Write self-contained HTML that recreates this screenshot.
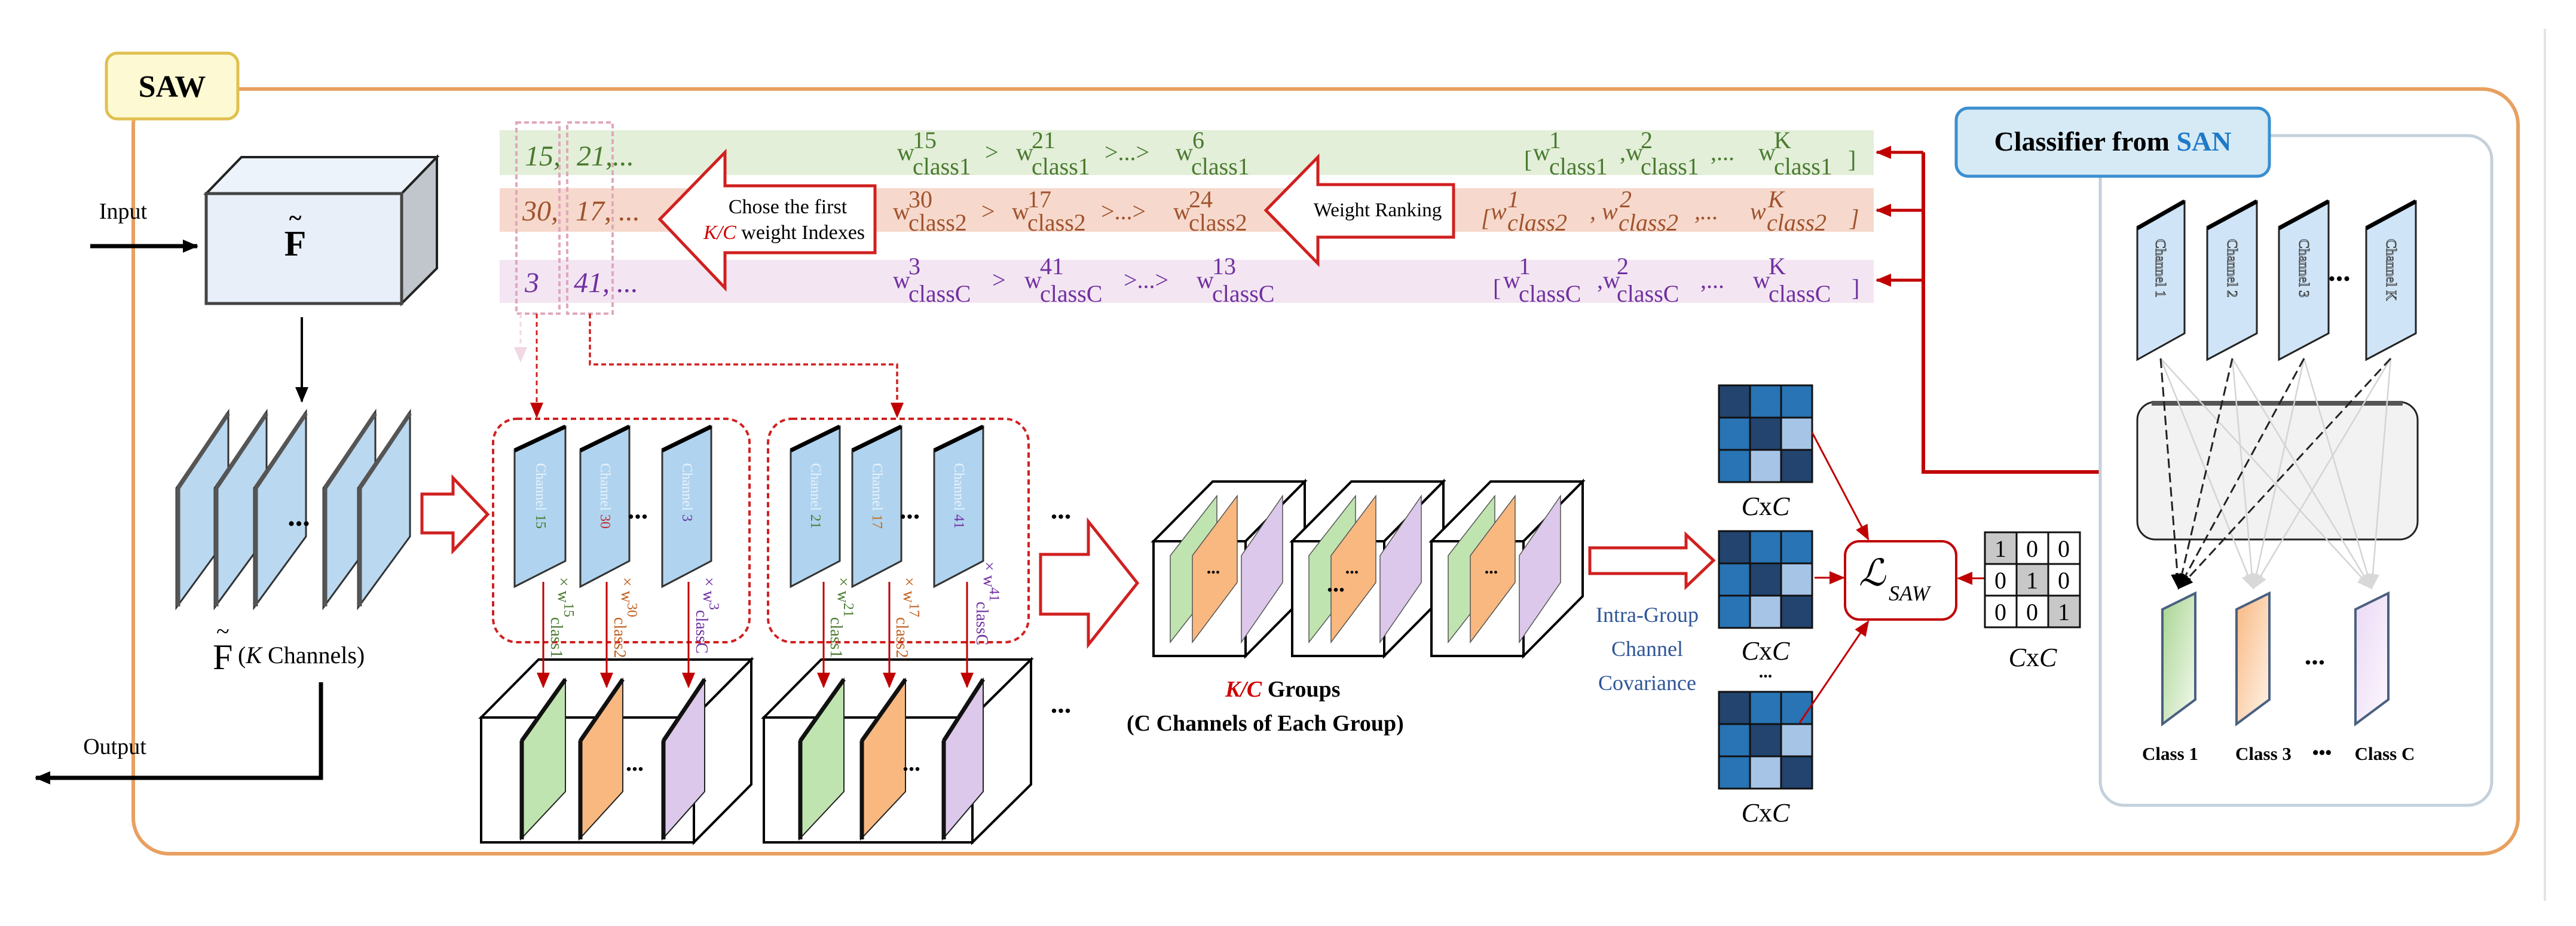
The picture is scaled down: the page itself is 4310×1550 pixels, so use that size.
<!DOCTYPE html>
<html><head><meta charset="utf-8"><style>
html,body{margin:0;padding:0;background:#fff;}
svg{display:block;font-family:"Liberation Serif",serif;}
svg text{font-family:"Liberation Serif",serif;}
</style></head><body>
<svg width="4310" height="1550" viewBox="0 0 4310 1550" xmlns="http://www.w3.org/2000/svg" font-family="Liberation Serif, serif">
<defs>
<marker id="arb" markerWidth="26" markerHeight="26" refX="24" refY="13" orient="auto" markerUnits="userSpaceOnUse"><path d="M0,2 L26,13 L0,24 z" fill="#c00000"/></marker>
<marker id="abk" markerWidth="26" markerHeight="26" refX="24" refY="13" orient="auto" markerUnits="userSpaceOnUse"><path d="M0,2 L26,13 L0,24 z" fill="#000"/></marker>
<marker id="agr" markerWidth="26" markerHeight="26" refX="24" refY="13" orient="auto" markerUnits="userSpaceOnUse"><path d="M0,2 L26,13 L0,24 z" fill="#d8d8d8"/></marker>
<marker id="apk" markerWidth="26" markerHeight="26" refX="24" refY="13" orient="auto" markerUnits="userSpaceOnUse"><path d="M0,2 L26,13 L0,24 z" fill="#f0d8e4"/></marker>
<linearGradient id="gG" x1="0" y1="0" x2="1" y2="1"><stop offset="0" stop-color="#a8d490"/><stop offset="1" stop-color="#f4faf0"/></linearGradient>
<linearGradient id="gO" x1="0" y1="0" x2="1" y2="1"><stop offset="0" stop-color="#f8b880"/><stop offset="1" stop-color="#fff4ea"/></linearGradient>
<linearGradient id="gP" x1="0" y1="0" x2="1" y2="1"><stop offset="0" stop-color="#ead8f4"/><stop offset="1" stop-color="#fdf8ff"/></linearGradient>
</defs>

<line x1="4258" y1="48" x2="4258" y2="1508" stroke="#e4e4e4" stroke-width="4"/>

<rect x="223" y="149" width="3990" height="1280" rx="60" fill="none" stroke="#e8a060" stroke-width="6"/>
<rect x="178" y="89" width="220" height="110" rx="18" fill="#fdf9d2" stroke="#e0c050" stroke-width="5"/>
<text x="288" y="162" font-size="52" font-weight="bold" text-anchor="middle">SAW</text>

<rect x="836" y="218" width="2299" height="75" fill="#e3efd9"/>
<rect x="836" y="315" width="2299" height="73" fill="#f6d9cc"/>
<rect x="836" y="435" width="2299" height="72" fill="#f3e6f2"/>

<rect x="864" y="205" width="72" height="320" fill="none" stroke="#e0a8bc" stroke-width="4" stroke-dasharray="8,5"/>
<rect x="949" y="205" width="76" height="320" fill="none" stroke="#e0a8bc" stroke-width="4" stroke-dasharray="8,5"/>

<g font-style="italic" font-size="48">
<text x="878" y="277" fill="#4a7a30">15,</text><text x="965" y="277" fill="#4a7a30">21,...</text>
<text x="874" y="369" fill="#a0522d">30,</text><text x="963" y="369" fill="#a0522d">17, ...</text>
<text x="878" y="489" fill="#7030a0">3</text><text x="960" y="489" fill="#7030a0">41, ...</text>
</g>

<polygon points="1104,367 1213,255 1213,311 1464,311 1464,423 1213,423 1213,482" fill="#fff" stroke="#d02020" stroke-width="5"/>
<text x="1318" y="357" font-size="34" text-anchor="middle">Chose the first</text>
<text x="1312" y="400" font-size="34" text-anchor="middle"><tspan fill="#d00000" font-style="italic">K/C</tspan> weight Indexes</text>

<polygon points="2118,352 2205,263 2205,309 2432,309 2432,397 2205,397 2205,441" fill="#fff" stroke="#d02020" stroke-width="5"/>
<text x="2305" y="362" font-size="33" text-anchor="middle">Weight Ranking</text>

<g font-size="40" fill="#4a7a30">
<text x="1501" y="268">w</text><text x="1527" y="248">15</text><text x="1527" y="292">class1</text><text x="1648" y="268">&gt;</text>
<text x="1700" y="268">w</text><text x="1726" y="248">21</text><text x="1726" y="292">class1</text><text x="1848" y="268">&gt;...&gt;</text>
<text x="1967" y="268">w</text><text x="1995" y="248">6</text><text x="1993" y="292">class1</text>
<text x="2550" y="280">[</text><text x="2565" y="268">w</text><text x="2592" y="248">1</text><text x="2592" y="292">class1</text>
<text x="2710" y="268">,w</text><text x="2745" y="248">2</text><text x="2745" y="292">class1</text><text x="2862" y="268">,...</text>
<text x="2942" y="268">w</text><text x="2968" y="248">K</text><text x="2968" y="292">class1</text><text x="3092" y="280">]</text>
</g>
<g font-size="40" fill="#a0522d">
<text x="1494" y="367">w</text><text x="1520" y="347">30</text><text x="1520" y="386">class2</text><text x="1642" y="367">&gt;</text>
<text x="1693" y="367">w</text><text x="1719" y="347">17</text><text x="1719" y="386">class2</text><text x="1842" y="367">&gt;...&gt;</text>
<text x="1963" y="367">w</text><text x="1989" y="347">24</text><text x="1989" y="386">class2</text>
<g font-style="italic">
<text x="2478" y="378">[</text><text x="2494" y="367">w</text><text x="2522" y="347">1</text><text x="2522" y="386">class2</text>
<text x="2660" y="367">, w</text><text x="2710" y="347">2</text><text x="2708" y="386">class2</text><text x="2835" y="367">,...</text>
<text x="2928" y="367">w</text><text x="2958" y="347">K</text><text x="2956" y="386">class2</text><text x="3095" y="378">]</text>
</g></g>
<g font-size="40" fill="#7030a0">
<text x="1494" y="482">w</text><text x="1520" y="459">3</text><text x="1520" y="505">classC</text><text x="1660" y="482">&gt;</text>
<text x="1714" y="482">w</text><text x="1740" y="459">41</text><text x="1740" y="505">classC</text><text x="1880" y="482">&gt;...&gt;</text>
<text x="2002" y="482">w</text><text x="2028" y="459">13</text><text x="2028" y="505">classC</text>
<text x="2498" y="495">[</text><text x="2515" y="482">w</text><text x="2541" y="459">1</text><text x="2541" y="505">classC</text>
<text x="2672" y="482">,w</text><text x="2705" y="459">2</text><text x="2705" y="505">classC</text><text x="2845" y="482">,...</text>
<text x="2933" y="482">w</text><text x="2959" y="459">K</text><text x="2959" y="505">classC</text><text x="3098" y="495">]</text>
</g>

<polyline points="3514,790 3218,790 3218,255" fill="none" stroke="#c00000" stroke-width="6"/>
<line x1="3218" y1="255" x2="3140" y2="255" stroke="#c00000" stroke-width="5" marker-end="url(#arb)"/>
<line x1="3218" y1="352" x2="3140" y2="352" stroke="#c00000" stroke-width="5" marker-end="url(#arb)"/>
<line x1="3218" y1="469" x2="3140" y2="469" stroke="#c00000" stroke-width="5" marker-end="url(#arb)"/>

<rect x="3514" y="227" width="655" height="1121" rx="40" fill="#fff" stroke="#c4d0da" stroke-width="5"/>
<rect x="3273" y="181" width="524" height="114" rx="20" fill="#d6eaf5" stroke="#3a8fd0" stroke-width="5"/>
<text x="3535" y="252" font-size="46" font-weight="bold" text-anchor="middle">Classifier from <tspan fill="#1f7ac8">SAN</tspan></text>
<rect x="3576" y="673" width="469" height="230" rx="30" fill="#f2f2f2" stroke="#222" stroke-width="3"/>
<line x1="3600" y1="675" x2="4020" y2="675" stroke="#555" stroke-width="8"/>
<g fill="#cfe4f6" stroke="#222" stroke-width="3">
<polygon points="3576,382 3655,337 3655,558 3576,602"/>
<polygon points="3693,382 3776,337 3776,558 3693,602"/>
<polygon points="3813,382 3896,337 3896,558 3813,602"/>
<polygon points="3959,382 4042,337 4042,558 3959,602"/>
</g>
<g stroke="#000" stroke-width="7"><line x1="3576" y1="382" x2="3655" y2="337"/><line x1="3693" y1="382" x2="3776" y2="337"/><line x1="3813" y1="382" x2="3896" y2="337"/><line x1="3959" y1="382" x2="4042" y2="337"/></g>
<g font-size="24" fill="#cfe4f6" stroke="#333" stroke-width="1">
<text transform="translate(3607,400) rotate(90)">Channel 1</text>
<text transform="translate(3727,400) rotate(90)">Channel 2</text>
<text transform="translate(3847,400) rotate(90)">Channel 3</text>
<text transform="translate(3993,400) rotate(90)">Channel K</text>
</g>
<text x="3914" y="470" font-size="50" font-weight="bold" text-anchor="middle">...</text>
<g stroke="#d4d4d4" stroke-width="2.5">
<line x1="3615" y1="600" x2="3770" y2="985" marker-end="url(#agr)"/><line x1="3615" y1="600" x2="3968" y2="985" marker-end="url(#agr)"/>
<line x1="3735" y1="600" x2="3770" y2="985" marker-end="url(#agr)"/><line x1="3735" y1="600" x2="3968" y2="985" marker-end="url(#agr)"/>
<line x1="3855" y1="600" x2="3770" y2="985" marker-end="url(#agr)"/><line x1="3855" y1="600" x2="3968" y2="985" marker-end="url(#agr)"/>
<line x1="4000" y1="600" x2="3770" y2="985" marker-end="url(#agr)"/><line x1="4000" y1="600" x2="3968" y2="985" marker-end="url(#agr)"/>
</g>
<g stroke="#222" stroke-width="3" stroke-dasharray="16,8" fill="none">
<line x1="3615" y1="600" x2="3645" y2="985" marker-end="url(#abk)"/>
<line x1="3735" y1="600" x2="3645" y2="985" marker-end="url(#abk)"/>
<line x1="3855" y1="600" x2="3645" y2="985" marker-end="url(#abk)"/>
<line x1="4000" y1="600" x2="3645" y2="985" marker-end="url(#abk)"/>
</g>
<g stroke="#4a6080" stroke-width="4">
<polygon points="3618,1020 3673,993 3673,1171 3618,1212" fill="url(#gG)"/>
<polygon points="3742,1020 3797,993 3797,1171 3742,1212" fill="url(#gO)"/>
<polygon points="3941,1020 3996,993 3996,1171 3941,1212" fill="url(#gP)"/>
</g>
<text x="3873" y="1112" font-size="46" font-weight="bold" text-anchor="middle">...</text>
<g font-size="31" font-weight="bold" text-anchor="middle">
<text x="3631" y="1272">Class 1</text><text x="3787" y="1272">Class 3</text><text x="3885" y="1270">•••</text><text x="3990" y="1272">Class C</text>
</g>

<line x1="151" y1="412" x2="330" y2="412" stroke="#000" stroke-width="7" marker-end="url(#abk)"/>
<text x="206" y="366" font-size="38" text-anchor="middle">Input</text>
<polygon points="345,324 404,263 731,263 672,324" fill="#edf3fa" stroke="#222" stroke-width="4"/>
<polygon points="672,324 731,263 731,449 672,508" fill="#c0c6cc" stroke="#222" stroke-width="4"/>
<rect x="345" y="324" width="327" height="184" fill="#e8eff8" stroke="#444" stroke-width="5"/>
<text x="494" y="428" font-size="60" font-weight="bold" text-anchor="middle">F</text>
<text x="494" y="378" font-size="40" font-weight="bold" text-anchor="middle">~</text>
<line x1="505" y1="531" x2="505" y2="672" stroke="#000" stroke-width="4" marker-end="url(#abk)"/>

<g fill="#bad8f0" stroke="#333" stroke-width="3">
<polygon points="295,817 382,689 382,898 295,1017"/>
<polygon points="359,817 446,689 446,898 359,1017"/>
<polygon points="425,817 512,689 512,898 425,1017"/>
<polygon points="541,817 628,689 628,898 541,1017"/>
<polygon points="599,817 686,689 686,898 599,1017"/>
</g>
<g stroke="#555" stroke-width="7"><line x1="298" y1="817" x2="298" y2="1015"/><line x1="362" y1="817" x2="362" y2="1015"/><line x1="428" y1="817" x2="428" y2="1015"/><line x1="544" y1="817" x2="544" y2="1015"/><line x1="602" y1="817" x2="602" y2="1015"/>
<line x1="298" y1="817" x2="382" y2="692"/><line x1="362" y1="817" x2="446" y2="692"/><line x1="428" y1="817" x2="512" y2="692"/><line x1="544" y1="817" x2="628" y2="692"/><line x1="602" y1="817" x2="686" y2="692"/></g>
<text x="500" y="880" font-size="50" font-weight="bold" text-anchor="middle">...</text>
<text x="356" y="1120" font-size="60">F</text><text x="362" y="1070" font-size="40">~</text>
<text x="398" y="1110" font-size="40">(<tspan font-style="italic">K</tspan> Channels)</text>
<polyline points="537,1142 537,1302 60,1302" fill="none" stroke="#000" stroke-width="7" marker-end="url(#abk)"/>
<text x="192" y="1262" font-size="38" text-anchor="middle">Output</text>

<polygon points="706,827 758,827 758,800 816,861 758,922 758,892 706,892" fill="#fff" stroke="#d02020" stroke-width="5"/>

<line x1="871" y1="525" x2="871" y2="605" stroke="#f0d8e4" stroke-width="3" stroke-dasharray="8,6" marker-end="url(#apk)"/>
<line x1="898" y1="525" x2="898" y2="698" stroke="#d02020" stroke-width="3" stroke-dasharray="8,6" marker-end="url(#arb)"/>
<polyline points="987,525 987,610 1501,610 1501,698" fill="none" stroke="#d02020" stroke-width="3.5" stroke-dasharray="8,5" marker-end="url(#arb)"/>

<rect x="825" y="701" width="429" height="374" rx="40" fill="none" stroke="#d02020" stroke-width="4" stroke-dasharray="9,6"/>
<rect x="1285" y="701" width="436" height="374" rx="40" fill="none" stroke="#d02020" stroke-width="4" stroke-dasharray="9,6"/>
<g fill="#b0d4ef" stroke="#333" stroke-width="3">
<polygon points="861,754 946,714 946,939 861,982"/>
<polygon points="971,754 1053,714 1053,939 971,982"/>
<polygon points="1108,754 1190,714 1190,939 1108,982"/>
<polygon points="1323,754 1405,714 1405,939 1323,982"/>
<polygon points="1426,754 1508,714 1508,939 1426,982"/>
<polygon points="1563,754 1645,714 1645,939 1563,982"/>
</g>
<g stroke="#000" stroke-width="7"><line x1="861" y1="754" x2="946" y2="714"/><line x1="971" y1="754" x2="1053" y2="714"/><line x1="1108" y1="754" x2="1190" y2="714"/><line x1="1323" y1="754" x2="1405" y2="714"/><line x1="1426" y1="754" x2="1508" y2="714"/><line x1="1563" y1="754" x2="1645" y2="714"/></g>
<g font-size="24" fill="#e8f2fb">
<text transform="translate(897,775) rotate(90)">Channel <tspan fill="#4a7a30">15</tspan></text>
<text transform="translate(1005,775) rotate(90)">Channel <tspan fill="#c03030">30</tspan></text>
<text transform="translate(1142,775) rotate(90)">Channel <tspan fill="#7030a0">3</tspan></text>
<text transform="translate(1357,775) rotate(90)">Channel <tspan fill="#4a7a30">21</tspan></text>
<text transform="translate(1460,775) rotate(90)">Channel <tspan fill="#c07020">17</tspan></text>
<text transform="translate(1597,775) rotate(90)">Channel <tspan fill="#7030a0">41</tspan></text>
</g>
<g font-size="46" font-weight="bold" text-anchor="middle"><text x="1067" y="868">...</text><text x="1522" y="868">...</text><text x="1775" y="868">...</text><text x="1775" y="1193">...</text></g>
<g font-size="28">
<text transform="translate(934,966) rotate(90)" fill="#4a7a30">× w<tspan dy="-10" font-size="24">15</tspan><tspan dy="22">class1</tspan></text>
<text transform="translate(1040,966) rotate(90)" fill="#c06020">× w<tspan dy="-10" font-size="24">30</tspan><tspan dy="22">class2</tspan></text>
<text transform="translate(1177,966) rotate(90)" fill="#7030a0">× w<tspan dy="-10" font-size="24">3</tspan><tspan dy="22">classC</tspan></text>
<text transform="translate(1402,966) rotate(90)" fill="#4a7a30">× w<tspan dy="-10" font-size="24">21</tspan><tspan dy="22">class1</tspan></text>
<text transform="translate(1512,966) rotate(90)" fill="#c06020">× w<tspan dy="-10" font-size="24">17</tspan><tspan dy="22">class2</tspan></text>
<text transform="translate(1646,940) rotate(90)" fill="#7030a0">× w<tspan dy="-10" font-size="24">41</tspan><tspan dy="22">classC</tspan></text>
</g>

<g stroke="#000" stroke-width="4" fill="#fff">
<polygon points="805,1201 901,1104 1257,1104 1161,1201"/>
<polygon points="1161,1201 1257,1104 1257,1313 1161,1410"/>
<rect x="805" y="1201" width="356" height="209"/>
<polygon points="1278,1201 1374,1104 1725,1104 1627,1201"/>
<polygon points="1627,1201 1725,1104 1725,1313 1627,1410"/>
<rect x="1278" y="1201" width="349" height="209"/>
</g>
<g stroke="#222" stroke-width="2">
<polygon points="871,1240 946,1137 946,1325 871,1405" fill="#c0e4b0"/>
<polygon points="969,1240 1042,1137 1042,1325 969,1405" fill="#f8b880"/>
<polygon points="1108,1240 1179,1137 1179,1325 1108,1405" fill="#dcc8ea"/>
<polygon points="1337,1240 1412,1137 1412,1325 1337,1405" fill="#c0e4b0"/>
<polygon points="1440,1240 1515,1137 1515,1325 1440,1405" fill="#f8b880"/>
<polygon points="1577,1240 1645,1137 1645,1325 1577,1405" fill="#dcc8ea"/>
</g>
<g stroke="#111" stroke-width="7"><line x1="873" y1="1240" x2="873" y2="1405"/><line x1="873" y1="1240" x2="946" y2="1137"/><line x1="971" y1="1240" x2="971" y2="1405"/><line x1="971" y1="1240" x2="1042" y2="1137"/><line x1="1110" y1="1240" x2="1110" y2="1405"/><line x1="1110" y1="1240" x2="1179" y2="1137"/><line x1="1339" y1="1240" x2="1339" y2="1405"/><line x1="1339" y1="1240" x2="1412" y2="1137"/><line x1="1442" y1="1240" x2="1442" y2="1405"/><line x1="1442" y1="1240" x2="1515" y2="1137"/><line x1="1579" y1="1240" x2="1579" y2="1405"/><line x1="1579" y1="1240" x2="1645" y2="1137"/></g>
<g font-size="40" font-weight="bold" text-anchor="middle"><text x="1062" y="1290">...</text><text x="1525" y="1290">...</text></g>
<g stroke="#c00000" stroke-width="3">
<line x1="909" y1="974" x2="909" y2="1150" marker-end="url(#arb)"/><line x1="1015" y1="974" x2="1015" y2="1150" marker-end="url(#arb)"/><line x1="1152" y1="974" x2="1152" y2="1150" marker-end="url(#arb)"/>
<line x1="1378" y1="974" x2="1378" y2="1150" marker-end="url(#arb)"/><line x1="1488" y1="974" x2="1488" y2="1150" marker-end="url(#arb)"/><line x1="1618" y1="974" x2="1618" y2="1150" marker-end="url(#arb)"/>
</g>

<polygon points="1741,928 1821,928 1821,873 1903,976 1821,1079 1821,1028 1741,1028" fill="#fff" stroke="#d02020" stroke-width="5"/>

<g id="gc">
<g stroke="#000" stroke-width="4" fill="#fff">
<polygon points="1930,906 2029,806 2183,806 2084,906"/>
<polygon points="2084,906 2183,806 2183,998 2084,1098"/>
<rect x="1930" y="906" width="154" height="192"/>
</g>
<g stroke="#555" stroke-width="1.5">
<polygon points="1958,1075 1958,930 2036,830 2036,975" fill="#c0e4b0"/>
<polygon points="1995,1075 1995,930 2070,830 2070,975" fill="#f8b880"/>
<polygon points="2077,1075 2077,930 2146,830 2146,975" fill="#dcc8ea"/>
</g>
<text x="2030" y="960" font-size="30" font-weight="bold" text-anchor="middle">...</text>
</g>
<use href="#gc" x="232"/>
<use href="#gc" x="465"/>
<text x="2235" y="990" font-size="40" font-weight="bold" text-anchor="middle">...</text>
<text x="2050" y="1166" font-size="38" font-weight="bold"><tspan fill="#d00000" font-style="italic">K/C</tspan> Groups</text>
<text x="1885" y="1223" font-size="38" font-weight="bold">(C Channels of Each Group)</text>

<polygon points="2660,917 2821,917 2821,895 2867,938 2821,982 2821,960 2660,960" fill="#fff" stroke="#d02020" stroke-width="5"/>
<g font-size="36" fill="#2f5597" text-anchor="middle"><text x="2756" y="1041">Intra-Group</text><text x="2756" y="1098">Channel</text><text x="2756" y="1155">Covariance</text></g>

<g id="mx" stroke="#111" stroke-width="3">
<rect x="2876" y="645" width="52" height="54" fill="#22446e"/><rect x="2928" y="645" width="52" height="54" fill="#2874b4"/><rect x="2980" y="645" width="52" height="54" fill="#2874b4"/>
<rect x="2876" y="699" width="52" height="54" fill="#2874b4"/><rect x="2928" y="699" width="52" height="54" fill="#22446e"/><rect x="2980" y="699" width="52" height="54" fill="#a6c4e6"/>
<rect x="2876" y="753" width="52" height="54" fill="#2874b4"/><rect x="2928" y="753" width="52" height="54" fill="#a6c4e6"/><rect x="2980" y="753" width="52" height="54" fill="#22446e"/>
</g>
<use href="#mx" y="244"/>
<use href="#mx" y="513"/>
<g font-size="44" text-anchor="middle"><text x="2954" y="862"><tspan font-style="italic">C</tspan>x<tspan font-style="italic">C</tspan></text>
<text x="2954" y="1104"><tspan font-style="italic">C</tspan>x<tspan font-style="italic">C</tspan></text>
<text x="2954" y="1375"><tspan font-style="italic">C</tspan>x<tspan font-style="italic">C</tspan></text>
<text x="3401" y="1115"><tspan font-style="italic">C</tspan>x<tspan font-style="italic">C</tspan></text></g>
<text x="2954" y="1134" font-size="30" font-weight="bold" text-anchor="middle">...</text>

<rect x="3087" y="906" width="186" height="131" rx="24" fill="#fff" stroke="#c00000" stroke-width="4"/>
<text x="3110" y="980" font-size="62" font-style="italic" font-family="DejaVu Serif, serif">ℒ</text>
<text x="3160" y="1005" font-size="36" font-style="italic">SAW</text>
<g stroke="#c00000" stroke-width="3">
<line x1="3032" y1="724" x2="3126" y2="903" marker-end="url(#arb)"/>
<line x1="3036" y1="967" x2="3085" y2="967" marker-end="url(#arb)"/>
<line x1="3011" y1="1210" x2="3126" y2="1040" marker-end="url(#arb)"/>
<line x1="3321" y1="968" x2="3276" y2="968" marker-end="url(#arb)"/>
</g>
<g stroke="#111" stroke-width="3">
<rect x="3321" y="891" width="53" height="53" fill="#c8c8c8"/><rect x="3374" y="891" width="53" height="53" fill="#fff"/><rect x="3427" y="891" width="53" height="53" fill="#fff"/>
<rect x="3321" y="944" width="53" height="53" fill="#fff"/><rect x="3374" y="944" width="53" height="53" fill="#c8c8c8"/><rect x="3427" y="944" width="53" height="53" fill="#fff"/>
<rect x="3321" y="997" width="53" height="53" fill="#fff"/><rect x="3374" y="997" width="53" height="53" fill="#fff"/><rect x="3427" y="997" width="53" height="53" fill="#c8c8c8"/>
</g>
<g font-size="40" text-anchor="middle">
<text x="3347" y="932">1</text><text x="3400" y="932">0</text><text x="3453" y="932">0</text>
<text x="3347" y="985">0</text><text x="3400" y="985">1</text><text x="3453" y="985">0</text>
<text x="3347" y="1038">0</text><text x="3400" y="1038">0</text><text x="3453" y="1038">1</text>
</g>
</svg>
</body></html>
